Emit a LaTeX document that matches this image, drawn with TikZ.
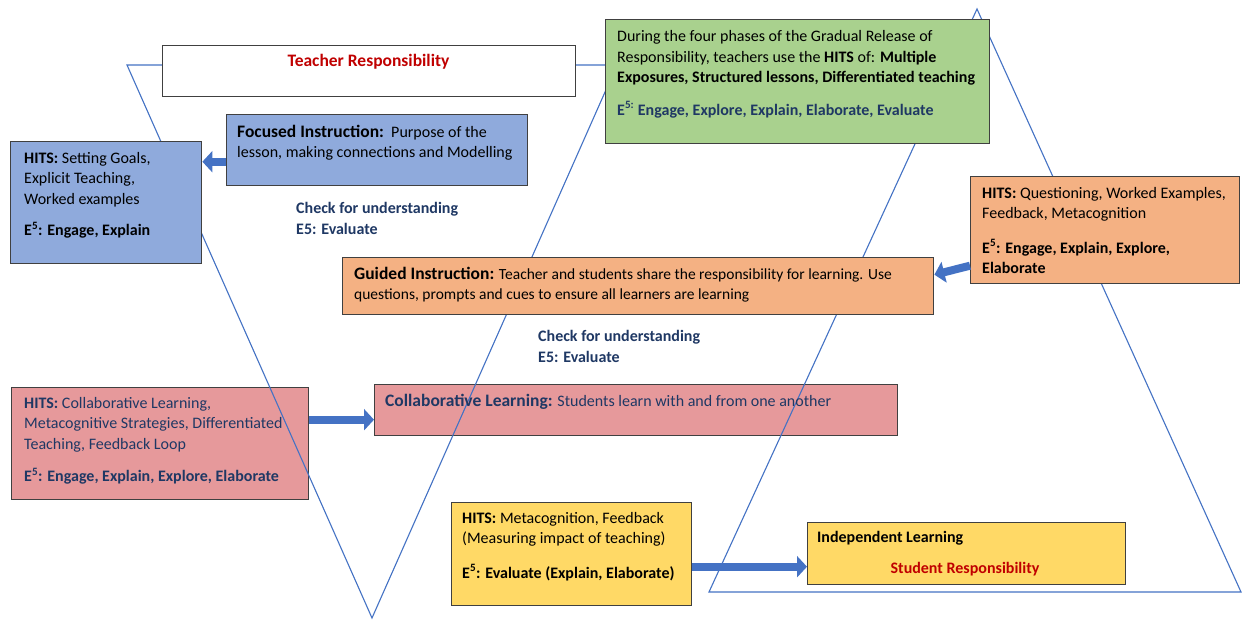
\documentclass[tikz,border=0pt]{standalone}
\usepackage{fontspec}
\setmainfont{Carlito}
\usetikzlibrary{arrows.meta}
\definecolor{tricol}{HTML}{4472C4}
\definecolor{arrowcol}{HTML}{4472C4}
\definecolor{bordergray}{HTML}{404040}
\definecolor{greenfill}{HTML}{A9D18E}
\definecolor{bluefill}{HTML}{8FAADC}
\definecolor{orangefill}{HTML}{F4B183}
\definecolor{pinkfill}{HTML}{E6999B}
\definecolor{yellowfill}{HTML}{FFD966}
\definecolor{navy}{HTML}{1F3864}
\definecolor{redtext}{HTML}{C00000}
\newcommand\headfont{\fontsize{17.5}{20}\selectfont\bfseries}
\begin{document}
\begin{tikzpicture}[x=1pt,y=-1pt,
  box/.style={draw=bordergray, line width=1.4pt, inner sep=0pt, anchor=north west},
  txt/.style={inner sep=0pt, anchor=base west, font=\fontsize{16}{20.5}\selectfont},
  triline/.style={draw=tricol, line width=1.1pt, line join=miter},
  barrow/.style={draw=arrowcol, line width=8pt, -{Triangle[length=10pt,width=21pt]}}]
\useasboundingbox[fill=white] (0,0) rectangle (1243,621);

% pink boxes (lines show over them)
\node[box, fill=pinkfill, minimum width=297pt, minimum height=112pt] (pinkhits) at (11,387) {};
\node[box, fill=pinkfill, minimum width=523pt, minimum height=51pt] (collab) at (374,384) {};

% triangles
\draw[triline] (127,65) -- (617,65) -- (372,618) -- cycle;
\draw[triline] (977,9) -- (1241,592) -- (709,592) -- cycle;

% opaque boxes
\node[box, fill=white, minimum width=413pt, minimum height=51pt] (teacher) at (162,45) {};
\node[box, fill=greenfill, minimum width=384pt, minimum height=124pt] (green) at (605,19) {};
\node[box, fill=bluefill, minimum width=301pt, minimum height=71pt] (focused) at (226,114) {};
\node[box, fill=bluefill, minimum width=191pt, minimum height=122pt] (bluehits) at (10,141) {};
\node[box, fill=orangefill, minimum width=591pt, minimum height=57pt] (guided) at (342,257) {};
\node[box, fill=orangefill, minimum width=269pt, minimum height=107pt] (orangehits) at (970,176) {};
\node[box, fill=yellowfill, minimum width=240pt, minimum height=103pt] (yellowhits) at (451,502) {};
\node[box, fill=yellowfill, minimum width=318pt, minimum height=62pt] (indep) at (807,522) {};

% texts
\node[txt, anchor=base, font=\fontsize{17.5}{20}\selectfont\bfseries, text=redtext] (teachertxt) at (368.5,66) {Teacher Responsibility};

\node[txt, font=\fontsize{16}{21}\selectfont] (greentxt) at (617,41) {\parbox[t]{380pt}{\raggedright
During the four phases of the Gradual Release of\\
Responsibility, teachers use the \textbf{HITS} of: \textbf{Multiple}\\
\textbf{Exposures, Structured lessons, Differentiated teaching}\\[11pt]
{\color{navy}\bfseries E\textsuperscript{5:} Engage, Explore, Explain, Elaborate, Evaluate}}};

\node[txt, font=\fontsize{16}{20}\selectfont] (focusedtxt) at (237,137) {\parbox[t]{300pt}{\raggedright
{\headfont Focused Instruction:}\ \ Purpose of the\\
lesson, making connections and Modelling}};

\node[txt, font=\fontsize{16}{20.5}\selectfont] (bluehitstxt) at (24,163) {\parbox[t]{180pt}{\raggedright
\textbf{HITS:} Setting Goals,\\
Explicit Teaching,\\
Worked examples\\[11pt]
\textbf{E\textsuperscript{5}: Engage, Explain}}};

\node[txt, font=\fontsize{16}{21}\selectfont\bfseries, text=navy] (check1) at (296,213) {\parbox[t]{200pt}{\raggedright
Check for understanding\\
E5: Evaluate}};

\node[txt, font=\fontsize{15.5}{20}\selectfont] (guidedtxt) at (354,279) {\parbox[t]{600pt}{\raggedright
{\headfont Guided Instruction:} Teacher and students share the responsibility for learning. Use\\
questions, prompts and cues to ensure all learners are learning}};

\node[txt, font=\fontsize{16}{20}\selectfont] (orangehitstxt) at (982,198) {\parbox[t]{260pt}{\raggedright
\textbf{HITS:} Questioning, Worked Examples,\\
Feedback, Metacognition\\[15pt]
\textbf{E\textsuperscript{5}: Engage, Explain, Explore,}\\
\textbf{Elaborate}}};

\node[txt, font=\fontsize{16}{21}\selectfont\bfseries, text=navy] (check2) at (538,341) {\parbox[t]{200pt}{\raggedright
Check for understanding\\
E5: Evaluate}};

\node[txt, font=\fontsize{16}{20}\selectfont, text=navy] (collabtxt) at (385,406) {\parbox[t]{520pt}{\raggedright
{\headfont Collaborative Learning:} Students learn with and from one another}};

\node[txt, font=\fontsize{16}{20.5}\selectfont, text=navy] (pinkhitstxt) at (24,408) {\parbox[t]{300pt}{\raggedright
\textbf{HITS:} Collaborative Learning,\\
Metacognitive Strategies, Differentiated\\
Teaching, Feedback Loop\\[12pt]
\textbf{E\textsuperscript{5}: Engage, Explain, Explore, Elaborate}}};

\node[txt, font=\fontsize{16}{20}\selectfont] (yellowhitstxt) at (462,523) {\parbox[t]{240pt}{\raggedright
\textbf{HITS:} Metacognition, Feedback\\
(Measuring impact of teaching)\\[15pt]
\textbf{E\textsuperscript{5}: Evaluate (Explain, Elaborate)}}};

\node[txt, font=\fontsize{16}{20}\selectfont\bfseries] (indeptxt) at (817,542) {Independent Learning};
\node[txt, anchor=base, font=\fontsize{16}{20}\selectfont\bfseries, text=redtext] (studenttxt) at (965,573) {Student Responsibility};

% arrows
\coordinate (a1) at ([yshift=-11.5pt]focused.west);
\draw[barrow] (a1) -- (a1 -| bluehits.east);
\coordinate (a2s) at ([yshift=-35.5pt]orangehits.west);
\coordinate (a2e) at ([yshift=11.5pt]guided.east);
\draw[barrow] (a2s) -- (a2e);
\coordinate (a3) at ([yshift=24pt]pinkhits.east);
\draw[barrow] (a3) -- (a3 -| collab.west);
\coordinate (a4) at ([yshift=-12.5pt]yellowhits.east);
\draw[barrow] (a4) -- (a4 -| indep.west);
\end{tikzpicture}
\end{document}
